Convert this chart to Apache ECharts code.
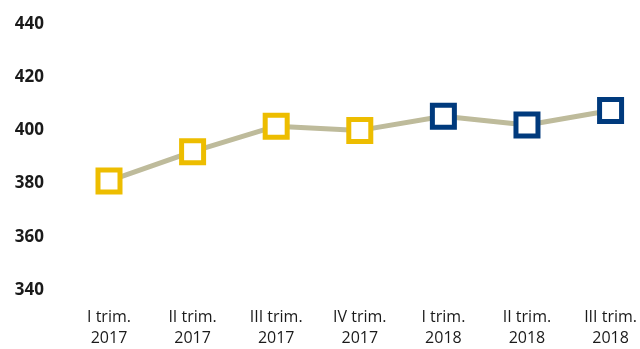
<!DOCTYPE html>
<html><head><meta charset="utf-8">
<script src="https://cdn.jsdelivr.net/npm/echarts@6/dist/echarts.min.js"></script>
<style>html,body{margin:0;padding:0;background:#fff}#c{width:640px;height:349px}</style>
</head><body><div id="c"></div>
<script>
const categories = ['I trim.\n2017','II trim.\n2017','III trim.\n2017','IV trim.\n2017','I trim.\n2018','II trim.\n2018','III trim.\n2018'];
const values = [381, 392, 401.6, 400, 405.3, 402, 407.5];
const yTicks = [340, 360, 380, 400, 420, 440];
const yellow = '#EDBD00', blue = '#003A7D';
const chart = echarts.init(document.getElementById('c'));
chart.setOption({
  animation: false,
  grid: {left: 109, right: 27, top: 24, bottom: 51},
  xAxis: {
    type: 'category', data: categories, boundaryGap: false,
    axisLine: {show: false}, axisTick: {show: false}, splitLine: {show: false},
    axisLabel: {fontFamily: 'Open Sans', fontSize: 16, color: '#1a1a1a', lineHeight: 21, margin: 17, interval: 0}
  },
  yAxis: {
    type: 'value', min: yTicks[0], max: yTicks[yTicks.length-1], interval: 20,
    axisLine: {show: false}, axisTick: {show: false}, splitLine: {show: false},
    axisLabel: {fontFamily: 'Open Sans', fontSize: 17, fontWeight: 'bold', color: '#1a1a1a', margin: 65}
  },
  series: [{
    type: 'line',
    data: values.map((v, i) => ({value: v, itemStyle: {borderColor: categories[i].indexOf('2017') >= 0 ? yellow : blue}})),
    symbol: 'rect', symbolSize: 22, showAllSymbol: true,
    lineStyle: {color: '#BEBB9B', width: 5},
    itemStyle: {color: '#fff', borderWidth: 5}
  }]
});
</script></body></html>
